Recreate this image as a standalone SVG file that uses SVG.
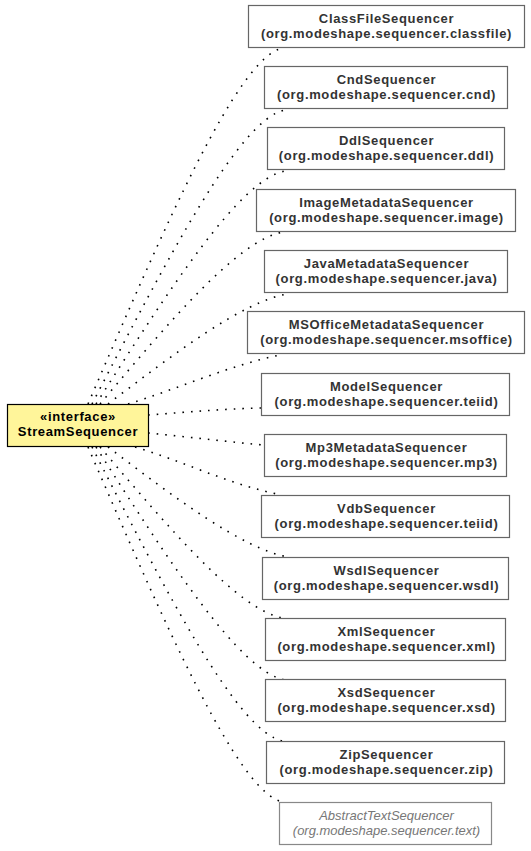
<svg xmlns="http://www.w3.org/2000/svg" width="531" height="851" viewBox="0 0 531 851">
<style>
  .n rect { fill: #ffffff; stroke: #666666; stroke-width: 1.2; }
  .n text { font-family: "Liberation Sans", Arial, sans-serif; font-size: 13px; font-weight: bold; fill: #333333; text-anchor: middle; letter-spacing: 0.65px; }
  .abs text { font-weight: normal; font-style: italic; fill: #777777; letter-spacing: 0; }
  .abs rect { stroke: #888888; }
  #iface rect { fill: #fff59a; stroke: #000000; stroke-width: 1.2; }
  #iface text { fill: #000000; }
  .e path { fill: none; stroke: #000000; stroke-width: 1.6; stroke-dasharray: 1.6 7; }
</style>
<rect width="531" height="851" fill="#ffffff"/>
<g class="e" id="connectors">
  <path d="M88,404 C163,230 238,56 283,48"/>
  <path d="M92,404 C166,261 240,118 285,110"/>
  <path d="M96,404 C168,291 240,179 285,171"/>
  <path d="M100,404 C169,322 238,240 283,232"/>
  <path d="M108,404 C175,353 242,302 287,294"/>
  <path d="M128,404 C175,390 230,365 280,355"/>
  <path d="M148,415 C190,412 220,409 261,408"/>
  <path d="M148,433 C190,437 220,441 263,445"/>
  <path d="M135,447 C180,460 230,485 282,495"/>
  <path d="M108,447 C175,498 243,549 288,557"/>
  <path d="M100,447 C169,528 238,610 283,618"/>
  <path d="M96,447 C168,560 240,672 285,680"/>
  <path d="M92,447 C165,590 238,733 283,741"/>
  <path d="M88,447 C163,620 238,794 283,802"/>
</g>
<g class="n" id="iface">
  <rect x="7.5" y="404.5" width="141" height="42"/>
  <text x="78" y="421">«interface»</text>
  <text x="78" y="436">StreamSequencer</text>
</g>
<g class="n" id="ClassFileSequencer">
  <rect x="248.5" y="5.5" width="276" height="42"/>
  <text x="386.5" y="23">ClassFileSequencer</text>
  <text x="386.5" y="38">(org.modeshape.sequencer.classfile)</text>
</g>
<g class="n" id="CndSequencer">
  <rect x="264.5" y="66.5" width="243" height="42"/>
  <text x="386.5" y="84">CndSequencer</text>
  <text x="386.5" y="99">(org.modeshape.sequencer.cnd)</text>
</g>
<g class="n" id="DdlSequencer">
  <rect x="267.5" y="127.5" width="237" height="42"/>
  <text x="386.5" y="145">DdlSequencer</text>
  <text x="386.5" y="160">(org.modeshape.sequencer.ddl)</text>
</g>
<g class="n" id="ImageMetadataSequencer">
  <rect x="256.5" y="189.5" width="259" height="42"/>
  <text x="386.5" y="207">ImageMetadataSequencer</text>
  <text x="386.5" y="222">(org.modeshape.sequencer.image)</text>
</g>
<g class="n" id="JavaMetadataSequencer">
  <rect x="264.5" y="250.5" width="243" height="42"/>
  <text x="386.5" y="268">JavaMetadataSequencer</text>
  <text x="386.5" y="283">(org.modeshape.sequencer.java)</text>
</g>
<g class="n" id="MSOfficeMetadataSequencer">
  <rect x="247.5" y="311.5" width="277" height="42"/>
  <text x="386.5" y="329">MSOfficeMetadataSequencer</text>
  <text x="386.5" y="344">(org.modeshape.sequencer.msoffice)</text>
</g>
<g class="n" id="ModelSequencer">
  <rect x="261.5" y="373.5" width="248" height="42"/>
  <text x="386.5" y="391">ModelSequencer</text>
  <text x="386.5" y="406">(org.modeshape.sequencer.teiid)</text>
</g>
<g class="n" id="Mp3MetadataSequencer">
  <rect x="264.5" y="434.5" width="242" height="42"/>
  <text x="386.5" y="452">Mp3MetadataSequencer</text>
  <text x="386.5" y="467">(org.modeshape.sequencer.mp3)</text>
</g>
<g class="n" id="VdbSequencer">
  <rect x="261.5" y="495.5" width="248" height="42"/>
  <text x="386.5" y="513">VdbSequencer</text>
  <text x="386.5" y="528">(org.modeshape.sequencer.teiid)</text>
</g>
<g class="n" id="WsdlSequencer">
  <rect x="262.5" y="557.5" width="246" height="42"/>
  <text x="386.5" y="575">WsdlSequencer</text>
  <text x="386.5" y="590">(org.modeshape.sequencer.wsdl)</text>
</g>
<g class="n" id="XmlSequencer">
  <rect x="265.5" y="618.5" width="240" height="42"/>
  <text x="386.5" y="636">XmlSequencer</text>
  <text x="386.5" y="651">(org.modeshape.sequencer.xml)</text>
</g>
<g class="n" id="XsdSequencer">
  <rect x="265.5" y="679.5" width="240" height="42"/>
  <text x="386.5" y="697">XsdSequencer</text>
  <text x="386.5" y="712">(org.modeshape.sequencer.xsd)</text>
</g>
<g class="n" id="ZipSequencer">
  <rect x="266.5" y="741.5" width="238" height="42"/>
  <text x="386.5" y="759">ZipSequencer</text>
  <text x="386.5" y="774">(org.modeshape.sequencer.zip)</text>
</g>
<g class="n abs" id="AbstractTextSequencer">
  <rect x="279.5" y="802.5" width="212" height="42"/>
  <text x="386.5" y="820">AbstractTextSequencer</text>
  <text x="386.5" y="835">(org.modeshape.sequencer.text)</text>
</g>
</svg>
